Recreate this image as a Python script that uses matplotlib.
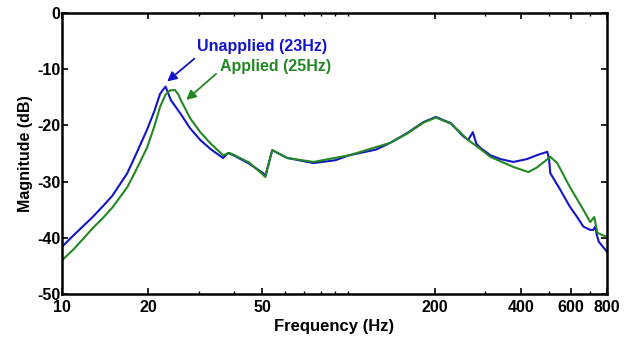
import numpy as np
import matplotlib.pyplot as plt
from matplotlib.ticker import FixedLocator, NullFormatter

plt.rcParams['font.family'] = ['Liberation Sans', 'DejaVu Sans']
plt.rcParams['font.weight'] = 'bold'
plt.rcParams['axes.labelweight'] = 'bold'
plt.rcParams['axes.unicode_minus'] = False

# Unapplied (blue) frequency response
f_unapplied = [10, 11, 12.8, 14, 15, 16.9, 18, 19.8, 21, 22.0, 22.5, 23, 24, 26, 28,
               30.4, 33, 36.5, 38, 40, 45, 50.4, 51.3, 54.2, 61.2, 75.5, 90, 101, 110,
               125, 140, 160, 183, 202, 228, 250, 262, 272, 280, 289, 313, 340, 377,
               420, 455, 495, 502, 507, 521, 550, 594, 629, 661, 699, 716, 728, 735,
               749, 800]
db_unapplied = [-41.6, -39.5, -36.3, -34.2, -32.5, -28.5, -25.5, -20.8, -17.5, -14.4,
                -13.7, -13.1, -15.5, -18.0, -20.5, -22.6, -24.2, -25.8, -24.9, -25.4,
                -26.8, -28.5, -29.0, -24.4, -25.8, -26.7, -26.2, -25.3, -24.9, -24.3,
                -23.1, -21.4, -19.4, -18.5, -19.6, -21.8, -22.6, -21.2, -23.3, -24.0,
                -25.3, -26.0, -26.5, -26.0, -25.3, -24.7, -26.0, -28.5, -29.5, -31.5,
                -34.5, -36.3, -38.0, -38.6, -38.6, -38.0, -39.3, -40.7, -42.5]

# Applied (green) frequency response
f_applied = [10, 11, 12.8, 14, 15, 16.9, 18, 19.8, 21, 22, 23, 23.8, 24.8, 25.5, 26,
             28, 30.4, 33, 36.5, 38.5, 40, 45, 50.4, 51.3, 54.2, 61.2, 75.5, 101, 140,
             160, 183, 202, 228, 262, 289, 313, 377, 425, 455, 507, 536, 594, 661, 699,
             722, 740, 800]
db_applied = [-44.0, -42.0, -38.3, -36.3, -34.6, -31.0, -28.3, -24.0, -20.2, -16.7,
              -14.5, -13.8, -13.7, -14.5, -15.5, -18.7, -21.2, -23.2, -25.3, -24.9,
              -25.3, -26.6, -28.8, -29.2, -24.4, -25.8, -26.5, -25.3, -23.1, -21.5,
              -19.5, -18.6, -19.7, -22.6, -24.2, -25.6, -27.4, -28.3, -27.5, -25.6,
              -26.7, -31.0, -35.0, -37.2, -36.3, -39.1, -39.9]

major_ticks = [10, 20, 50, 200, 400, 600, 800]
minor_ticks = [30, 40, 60, 70, 80, 90, 100, 300, 500, 700]
y_ticks = [0, -10, -20, -30, -40, -50]

blue = '#1414c8'
green = '#238823'

fig = plt.figure(figsize=(6.28, 3.38), dpi=100)
ax = fig.add_axes([0.0987, 0.1302, 0.8679, 0.8313])

ax.plot(f_unapplied, db_unapplied, color=blue, lw=1.5)
ax.plot(f_applied, db_applied, color=green, lw=1.5)

ax.set_xscale('log')
ax.set_xlim(10, 800)
ax.set_ylim(-50, 0)

ax.xaxis.set_major_locator(FixedLocator(major_ticks))
ax.xaxis.set_minor_locator(FixedLocator(minor_ticks))
ax.xaxis.set_minor_formatter(NullFormatter())
ax.set_xticklabels([str(t) for t in major_ticks])
ax.set_yticks(y_ticks)

ax.tick_params(which='major', direction='in', length=4, width=1.2,
               top=True, right=True, labelsize=11.5)
ax.tick_params(axis='x', which='major', pad=4)
ax.tick_params(axis='y', which='major', pad=1)
ax.tick_params(which='minor', direction='in', length=2.5, width=1.0,
               top=True, right=True)
for s in ax.spines.values():
    s.set_linewidth(1.8)

ax.set_xlabel('Frequency (Hz)', fontsize=12, fontweight='bold', labelpad=3)
ax.set_ylabel('Magnitude (dB)', fontsize=11.5, fontweight='bold', labelpad=3)

# annotations
ax.text(29.7, -6.0, 'Unapplied (23Hz)', color=blue, fontsize=11.5, ha='left', va='center')
ax.annotate('', xy=(22.9, -12.5), xytext=(29.5, -7.8),
            arrowprops=dict(arrowstyle='-|>', color=blue, lw=1.3, mutation_scale=14))
ax.text(35.7, -9.6, 'Applied (25Hz)', color=green, fontsize=11.5, ha='left', va='center')
ax.annotate('', xy=(26.7, -15.8), xytext=(35.1, -10.5),
            arrowprops=dict(arrowstyle='-|>', color=green, lw=1.3, mutation_scale=14))

fig.savefig('out.png', dpi=100)
